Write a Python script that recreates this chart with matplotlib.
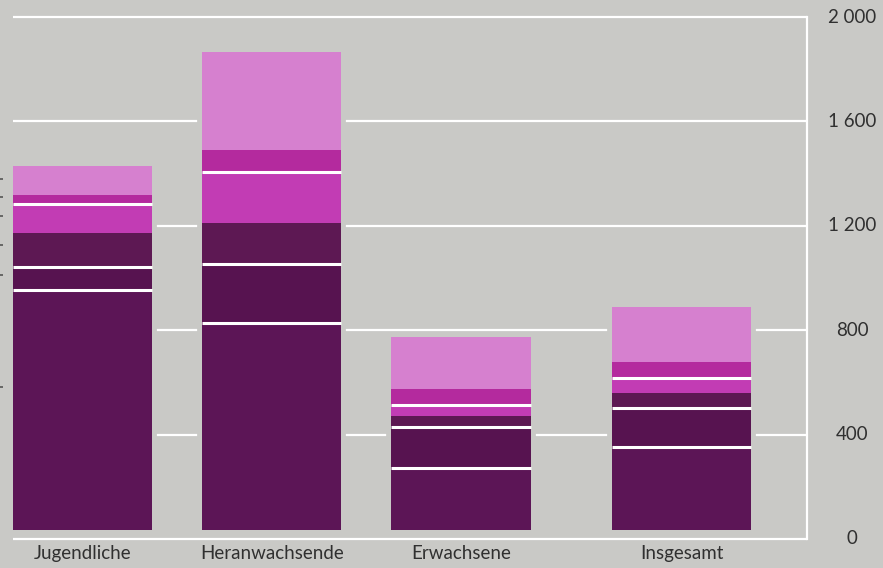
import matplotlib
matplotlib.use("Agg")
import matplotlib.pyplot as plt
import numpy as np
from matplotlib.transforms import ScaledTranslation
from matplotlib.ticker import FixedLocator

# ---- data ----
categories = ["Jugendliche", "Heranwachsende", "Erwachsene", "Insgesamt"]
seg1 = [920, 793, 238, 318]   # bottom, dark purple
seg2 = [88, 226, 157, 149]    # dark purple
seg3 = [130, 157, 42, 57]     # dark purple
seg4 = [111, 195, 42, 57]     # magenta
seg5 = [34, 84, 61, 61]       # deep pink
seg6 = [111, 375, 199, 211]   # light pink (top)
yticks = [0, 400, 800, 1200, 1600, 2000]
ytick_labels = ["0", "400", "800", "1 200", "1 600", "2 000"]
left_marks = [1379, 1310, 1238, 1126, 1011, 582]

# ---- style ----
BG = "#c9c9c6"
COLORS = ["#5c1556", "#571350", "#5d1853", "#c23cb4", "#b42a9e", "#d680cf"]
TEXT = "#303030"
positions = np.array([0, 0.995, 1.99, 3.15])
WIDTH = 0.732

plt.rcParams["font.family"] = ["Lato", "DejaVu Sans"]

fig = plt.figure(figsize=(8.83, 5.68), dpi=100, facecolor=BG)
ax = fig.add_axes([13 / 883, (568 - 542.9) / 568, (807 - 13) / 883, (542.9 - 13.1) / 568])
ax.set_facecolor(BG)
ax.set_xlim(-WIDTH / 2, 3.81)
ax.set_ylim(-15, 2015)

# bars are printed slightly above the baseline
shift = ax.transData + ScaledTranslation(0, 0.09, fig.dpi_scale_trans)

for v in yticks:
    ax.axhline(v, color="white", lw=1.6, zorder=1)

segs = [seg1, seg2, seg3, seg4, seg5, seg6]
totals = np.sum(np.array(segs), axis=0)

halo = ax.bar(positions, totals, width=WIDTH, color=BG, edgecolor=BG, linewidth=7, zorder=2)
for p in halo:
    p.set_transform(shift)

bottom = np.zeros(len(categories))
cums = []
for vals, col in zip(segs, COLORS):
    bars = ax.bar(positions, vals, bottom=bottom, width=WIDTH, color=col, linewidth=0, zorder=3)
    for p in bars:
        p.set_transform(shift)
    bottom = bottom + np.array(vals)
    cums.append(bottom.copy())

for idx in (0, 1, 3):
    for xc, yv in zip(positions, cums[idx]):
        ax.hlines(yv, xc - WIDTH / 2, xc + WIDTH / 2, colors="white", lw=2.2,
                  zorder=4, transform=shift)

for s in ("top", "left", "bottom"):
    ax.spines[s].set_visible(False)
ax.spines["right"].set_color("white")
ax.spines["right"].set_linewidth(1.6)
ax.spines["right"].set_bounds(0, 2000)

# right-hand value labels, centred in the margin
ax.set_yticks(yticks)
ax.tick_params(axis="y", which="major", left=False, right=False,
               labelleft=False, labelright=False)
ytrans = ax.get_yaxis_transform()
for v, lab in zip(yticks, ytick_labels):
    ax.text(1.057, v, lab, transform=ytrans, ha="center", va="center",
            fontsize=13.5, color=TEXT, clip_on=False)

ax.yaxis.set_minor_locator(FixedLocator(left_marks))
ax.spines["left"].set_position(("outward", 7))
ax.tick_params(axis="y", which="minor", left=True, right=False, length=6,
               width=1.2, color="#555555", direction="out")

ax.set_xticks(positions)
ax.set_xticklabels(categories)
ax.tick_params(axis="x", length=0, pad=1.5, labelsize=13.5, labelcolor=TEXT)

fig.savefig("out.png", dpi=100, facecolor=BG)
